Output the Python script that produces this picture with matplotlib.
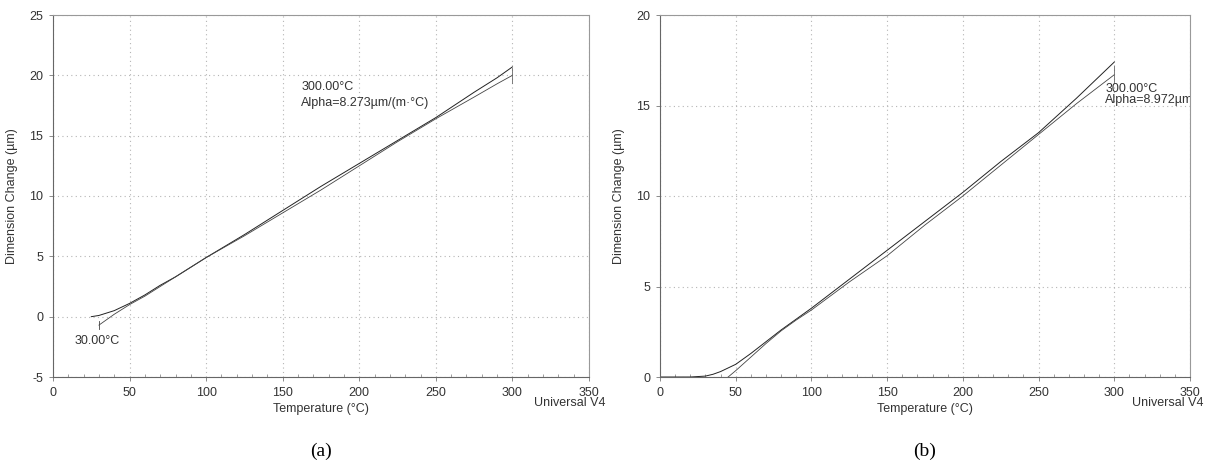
import numpy as np
import matplotlib
matplotlib.use('Agg')
import matplotlib.pyplot as plt
from matplotlib.ticker import MultipleLocator

plt.rcParams['font.family'] = ['Liberation Sans', 'DejaVu Sans']
plt.rcParams['axes.unicode_minus'] = False

# Panel (a) data: heating / cooling traces
a_up_t = [25, 30, 40, 50, 60, 70, 80, 90, 100, 125, 150, 175, 200, 225, 250, 275, 290, 300]
a_up_d = [0.0, 0.1, 0.5, 1.1, 1.8, 2.6, 3.3, 4.1, 4.9, 6.8, 8.8, 10.8, 12.7, 14.6, 16.5, 18.6, 19.8, 20.7]
a_lo_t = [30, 40, 50, 60, 70, 80, 90, 100, 125, 150, 175, 200, 225, 250, 275, 290, 300]
a_lo_d = [-0.7, 0.2, 1.0, 1.7, 2.5, 3.3, 4.1, 4.9, 6.7, 8.6, 10.5, 12.5, 14.5, 16.4, 18.2, 19.3, 20.0]

# Panel (b) data
b_up_t = [0, 20, 30, 35, 40, 45, 50, 60, 70, 80, 90, 100, 125, 150, 175, 200, 225, 250, 275, 290, 300]
b_up_d = [0.0, 0.0, 0.05, 0.15, 0.3, 0.5, 0.7, 1.3, 1.95, 2.6, 3.2, 3.8, 5.4, 7.0, 8.6, 10.2, 11.9, 13.5, 15.4, 16.6, 17.4]
b_lo_t = [45, 50, 60, 70, 80, 90, 100, 125, 150, 175, 200, 225, 250, 275, 300]
b_lo_d = [0.0, 0.35, 1.1, 1.85, 2.55, 3.15, 3.7, 5.25, 6.7, 8.4, 10.0, 11.7, 13.4, 15.1, 16.7]

W, H = 1210, 467
fig = plt.figure(figsize=(W / 100, H / 100), dpi=100)

txt = '#333333'
grid_c = '#b5b5b5'


def setup(ax, ylim, ystep):
    ax.set_xlim(0, 350)
    ax.set_ylim(*ylim)
    ax.xaxis.set_major_locator(MultipleLocator(50))
    ax.xaxis.set_minor_locator(MultipleLocator(10))
    ax.yaxis.set_major_locator(MultipleLocator(ystep))
    ax.grid(True, which='major', color=grid_c, linestyle=(0, (1, 3)), linewidth=0.8)
    ax.tick_params(axis='both', which='major', labelsize=9, labelcolor=txt,
                   color='#777777', length=3, width=0.6, pad=4)
    ax.tick_params(axis='x', which='minor', direction='in', length=2, width=0.5, color='#777777')
    for side in ['left', 'bottom']:
        ax.spines[side].set_color('#666666')
        ax.spines[side].set_linewidth(0.8)
    for side in ['top', 'right']:
        ax.spines[side].set_color('#999999')
        ax.spines[side].set_linewidth(0.8)
        ax.spines[side].set_linestyle((0, (2, 1)))
    ax.set_xlabel('Temperature (°C)', fontsize=9, color=txt, labelpad=3)
    ax.set_ylabel('Dimension Change (µm)', fontsize=9, color=txt, labelpad=8)


# Panel (a)
ax1 = fig.add_axes([53 / W, (H - 377) / H, 536 / W, 362 / H])
setup(ax1, (-5, 25), 5)
ax1.plot(a_up_t, a_up_d, color='#222222', lw=0.7)
ax1.plot(a_lo_t, a_lo_d, color='#444444', lw=0.6)
ax1.plot([30, 30], [-0.4, -1.0], color='#444444', lw=0.6)
ax1.plot([300, 300], [19.4, 20.6], color='#666666', lw=0.6)
ax1.text(14, -2.0, '30.00°C', fontsize=9, color=txt, va='center')
ax1.text(162, 19.0, '300.00°C', fontsize=9, color=txt, va='center')
ax1.text(162, 17.7, 'Alpha=8.273µm/(m·°C)', fontsize=9, color=txt, va='center')

# Panel (b)
ax2 = fig.add_axes([660 / W, (H - 377) / H, 530 / W, 362 / H])
setup(ax2, (0, 20), 5)
ax2.plot(b_up_t, b_up_d, color='#222222', lw=0.7)
ax2.plot(b_lo_t, b_lo_d, color='#444444', lw=0.6)
ax2.plot([300, 300], [16.3, 17.2], color='#666666', lw=0.6)
ax2.text(294, 15.9, '300.00°C', fontsize=9, color=txt, va='center', clip_on=True)
ax2.text(294, 15.3, 'Alpha=8.972µm/(m·°C)', fontsize=9, color=txt, va='center', clip_on=True)

# Footer labels
fig.text(605 / W, 1 - 403 / H, 'Universal V4', fontsize=9, color=txt, ha='right', va='center')
fig.text(1203 / W, 1 - 403 / H, 'Universal V4', fontsize=9, color=txt, ha='right', va='center')
fig.text(321 / W, 1 - 451 / H, '(a)', fontsize=14, ha='center', va='center',
         family=['Liberation Serif', 'DejaVu Serif'])
fig.text(925 / W, 1 - 451 / H, '(b)', fontsize=14, ha='center', va='center',
         family=['Liberation Serif', 'DejaVu Serif'])

fig.savefig('out.png', dpi=100)
